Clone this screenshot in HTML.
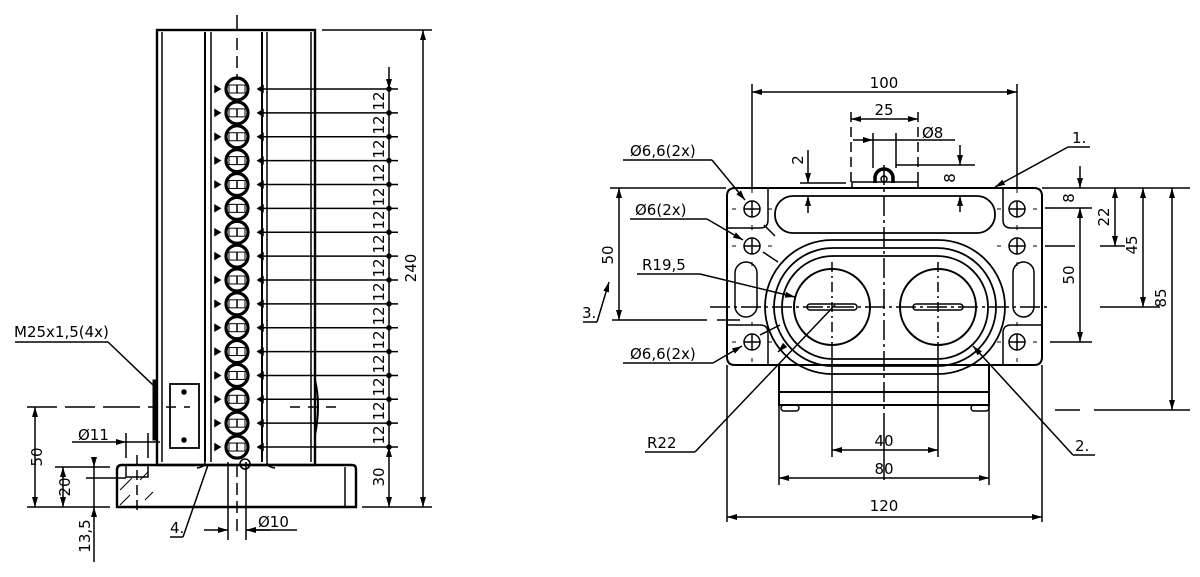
<!DOCTYPE html>
<html><head><meta charset="utf-8"><style>
html,body{margin:0;padding:0;background:#fff;width:1200px;height:577px;overflow:hidden}
svg text{font-family:"DejaVu Sans","Liberation Sans",sans-serif;font-size:15px;fill:#000}
</style></head><body>
<svg width="1200" height="577" viewBox="0 0 1200 577" xmlns="http://www.w3.org/2000/svg">
<defs>
<marker id="a" viewBox="0 0 10 6" refX="10" refY="3" markerWidth="10" markerHeight="6" orient="auto-start-reverse" markerUnits="userSpaceOnUse"><path d="M0,0 L10,3 L0,6z" fill="#000"/></marker>
</defs>
<g stroke="#000" fill="none" stroke-width="1.5">
<!-- ========== LEFT VIEW ========== -->
<line x1="237" y1="15" x2="237" y2="30"/>
<rect x="157" y="30" width="158" height="435" stroke-width="2.4"/>
<line x1="162" y1="32" x2="162" y2="462"/>
<line x1="205" y1="32" x2="205" y2="462" stroke-width="2"/><line x1="211" y1="32" x2="211" y2="462"/>
<line x1="262" y1="32" x2="262" y2="462" stroke-width="2"/><line x1="267" y1="32" x2="267" y2="462"/>
<line x1="311" y1="32" x2="311" y2="462"/>
<line x1="237" y1="38" x2="237" y2="80" stroke-dasharray="12,6"/>
<rect x="170" y="384" width="29" height="64" stroke-width="1.8"/>
<circle cx="184" cy="392" r="2" fill="#000"/><circle cx="184" cy="440" r="2" fill="#000"/>
<path d="M153,380 h4 v60 h-4z" fill="#000" stroke-width="1"/>
<path d="M315,380 q6,25 0,55" stroke-width="2"/>
<line x1="27" y1="407" x2="130" y2="407" stroke-dasharray="30,8"/>
<line x1="130" y1="407" x2="190" y2="407" stroke-dasharray="10,8"/>
<line x1="290" y1="407" x2="340" y2="407" stroke-dasharray="10,8"/>
<!-- base -->
<path d="M122,465 H352 q4,0 4,4 V507 H117 V470 q0,-5 5,-5z" stroke-width="2.4"/>
<line x1="345" y1="467" x2="345" y2="507"/>
<rect x="126" y="465" width="22" height="12"/>
<path d="M120,490 l12,-12 M120,505 l10,-10 M145,500 l8,-8 M140,480 l8,-8" stroke-width="1"/>
<line x1="137" y1="455" x2="137" y2="515" stroke-dasharray="10,5"/>
<line x1="228" y1="462" x2="228" y2="540"/><line x1="246" y1="462" x2="246" y2="540"/>
<line x1="237" y1="465" x2="237" y2="535" stroke-dasharray="12,6"/>
<circle cx="245" cy="464" r="5"/>
<path d="M205,462 q0,5 -8,6 M267,462 q0,5 8,6"/>
<!-- dims left view -->
<line x1="322" y1="30" x2="432" y2="30"/>
<line x1="423" y1="30" x2="423" y2="507" marker-start="url(#a)" marker-end="url(#a)"/>
<line x1="362" y1="507" x2="432" y2="507"/>
<line x1="389" y1="67" x2="389" y2="89" marker-end="url(#a)"/>
<line x1="389" y1="89" x2="389" y2="447"/>
<line x1="389" y1="447" x2="389" y2="507" marker-start="url(#a)" marker-end="url(#a)"/>
<line x1="27" y1="507" x2="110" y2="507"/>
<line x1="35" y1="407" x2="35" y2="507" marker-start="url(#a)" marker-end="url(#a)"/>
<line x1="55" y1="467" x2="110" y2="467"/>
<line x1="63" y1="467" x2="63" y2="507" marker-start="url(#a)" marker-end="url(#a)"/>
<line x1="86" y1="478" x2="126" y2="478"/>
<line x1="94" y1="457" x2="94" y2="467" marker-end="url(#a)"/>
<line x1="94" y1="467" x2="94" y2="507"/>
<line x1="94" y1="562" x2="94" y2="507" marker-end="url(#a)"/>
<line x1="72" y1="442" x2="126" y2="442" marker-end="url(#a)"/>
<line x1="126" y1="442" x2="160" y2="442"/>
<line x1="126" y1="433" x2="126" y2="458"/><line x1="148" y1="433" x2="148" y2="458"/>
<line x1="15" y1="342" x2="108" y2="342"/><line x1="108" y1="342" x2="153" y2="385"/>
<line x1="204" y1="530" x2="228" y2="530" marker-end="url(#a)"/>
<line x1="270" y1="530" x2="246" y2="530" marker-end="url(#a)"/>
<line x1="246" y1="530" x2="297" y2="530"/>
<line x1="170" y1="537" x2="183" y2="537"/><line x1="183" y1="537" x2="208" y2="465"/>

<!-- ========== RIGHT VIEW ========== -->
<line x1="610" y1="188" x2="726" y2="188"/>
<line x1="1042" y1="188" x2="1190" y2="188"/>
<path d="M735,188 H1034 q8,0 8,8 V357 q0,8 -8,8 H735 q-8,0 -8,-8 V196 q0,-8 8,-8z" stroke-width="2"/>
<path d="M727,228 H760 q8,0 8,-8 V188 M1042,228 H1011 q-8,0 -8,-8 V188 M727,325 H760 q8,0 8,8 V365 M1042,325 H1011 q-8,0 -8,8 V365"/>
<rect x="775" y="196" width="220" height="37" rx="18" stroke-width="1.8"/>
<rect x="735" y="262" width="22" height="55" rx="11"/>
<rect x="1013" y="262" width="21" height="55" rx="10.5"/>
<rect x="765" y="240" width="240" height="134" rx="67" stroke-width="1.8"/>
<rect x="774" y="248" width="222" height="118" rx="59" stroke-width="1.8"/>
<rect x="782" y="256" width="206" height="103" rx="51" stroke-width="1.8"/>
<circle cx="832" cy="307" r="38" stroke-width="2"/>
<circle cx="938" cy="307" r="38" stroke-width="2"/>
<rect x="807" y="304" width="50" height="6" rx="3"/>
<rect x="913" y="304" width="50" height="6" rx="3"/>
<path d="M779,365 V392 H989 V365 M779,392 V405 H989 V392" stroke-width="2"/>
<rect x="781" y="405" width="18" height="6" rx="3"/><rect x="971" y="405" width="18" height="6" rx="3"/>
<!-- connector -->
<rect x="852" y="182" width="66" height="6"/>
<path d="M875,183 v-5 a9,9 0 0 1 18,0 v5" stroke-width="3.5"/>
<circle cx="884" cy="179" r="3"/>
<line x1="884" y1="165" x2="884" y2="420" stroke-dasharray="20,4,3,4"/>
<line x1="884" y1="420" x2="884" y2="480"/>
<line x1="710" y1="307" x2="1050" y2="307" stroke-dasharray="20,4,3,4"/>
<line x1="832" y1="262" x2="832" y2="352" stroke-dasharray="10,4,2,4"/>
<line x1="938" y1="262" x2="938" y2="352" stroke-dasharray="10,4,2,4"/>
<line x1="832" y1="352" x2="832" y2="457"/><line x1="938" y1="352" x2="938" y2="457"/>
<!-- dims right -->
<line x1="752" y1="84" x2="752" y2="188"/><line x1="1017" y1="84" x2="1017" y2="188"/>
<line x1="752" y1="92" x2="1017" y2="92" marker-start="url(#a)" marker-end="url(#a)"/>
<line x1="851" y1="112" x2="851" y2="182" stroke-dasharray="10,5"/><line x1="918" y1="112" x2="918" y2="182" stroke-dasharray="10,5"/>
<line x1="851" y1="119" x2="918" y2="119" marker-start="url(#a)" marker-end="url(#a)"/>
<line x1="873" y1="140" x2="955" y2="140"/>
<line x1="853" y1="140" x2="873" y2="140" marker-end="url(#a)"/>
<line x1="873" y1="133" x2="873" y2="168"/><line x1="896" y1="133" x2="896" y2="168"/>
<line x1="896" y1="165" x2="975" y2="165"/>
<line x1="960" y1="145" x2="960" y2="165" marker-end="url(#a)"/>
<line x1="960" y1="212" x2="960" y2="196" marker-end="url(#a)"/>
<line x1="808" y1="150" x2="808" y2="183" marker-end="url(#a)"/>
<line x1="808" y1="213" x2="808" y2="196" marker-end="url(#a)"/>
<line x1="800" y1="183" x2="846" y2="183"/>
<line x1="1045" y1="208" x2="1092" y2="208"/>
<line x1="1045" y1="246" x2="1075" y2="246"/><line x1="1100" y1="246" x2="1125" y2="246"/>
<line x1="1050" y1="342" x2="1092" y2="342"/>
<line x1="1100" y1="307" x2="1160" y2="307"/>
<line x1="1055" y1="410" x2="1080" y2="410"/><line x1="1094" y1="410" x2="1190" y2="410"/>
<line x1="1080" y1="166" x2="1080" y2="188" marker-end="url(#a)"/>
<line x1="1080" y1="208" x2="1080" y2="342" marker-start="url(#a)" marker-end="url(#a)"/>
<line x1="1115" y1="188" x2="1115" y2="246" marker-start="url(#a)" marker-end="url(#a)"/>
<line x1="1143" y1="188" x2="1143" y2="307" marker-start="url(#a)" marker-end="url(#a)"/>
<line x1="1172" y1="188" x2="1172" y2="410" marker-start="url(#a)" marker-end="url(#a)"/>
<line x1="612" y1="320" x2="707" y2="320"/><line x1="717" y1="320" x2="740" y2="320"/>
<line x1="619" y1="188" x2="619" y2="320" marker-start="url(#a)" marker-end="url(#a)"/>
<line x1="779" y1="405" x2="779" y2="485"/><line x1="989" y1="405" x2="989" y2="485"/>
<line x1="727" y1="365" x2="727" y2="522"/><line x1="1042" y1="365" x2="1042" y2="522"/>
<line x1="832" y1="450" x2="938" y2="450" marker-start="url(#a)" marker-end="url(#a)"/>
<line x1="779" y1="478" x2="989" y2="478" marker-start="url(#a)" marker-end="url(#a)"/>
<line x1="727" y1="517" x2="1042" y2="517" marker-start="url(#a)" marker-end="url(#a)"/>
<!-- leaders -->
<line x1="623" y1="160" x2="712" y2="160"/><line x1="712" y1="160" x2="745" y2="200" marker-end="url(#a)"/>
<line x1="764" y1="225" x2="775" y2="236"/>
<line x1="630" y1="219" x2="707" y2="219"/><line x1="707" y1="219" x2="743" y2="240" marker-end="url(#a)"/>
<line x1="763" y1="252" x2="778" y2="262"/>
<line x1="637" y1="274" x2="700" y2="274"/><line x1="700" y1="274" x2="795" y2="297" marker-end="url(#a)"/>
<line x1="623" y1="363" x2="713" y2="363"/><line x1="713" y1="363" x2="742" y2="346" marker-end="url(#a)"/>
<line x1="760" y1="335" x2="780" y2="325"/>
<line x1="645" y1="452" x2="695" y2="452"/><line x1="695" y1="452" x2="835" y2="305"/>
<line x1="782" y1="348" x2="778" y2="352" marker-end="url(#a)"/>
<line x1="1068" y1="147" x2="1090" y2="147"/><line x1="1068" y1="147" x2="995" y2="187" marker-end="url(#a)"/>
<line x1="1073" y1="455" x2="1095" y2="455"/><line x1="1073" y1="455" x2="973" y2="346" marker-end="url(#a)"/>
<line x1="583" y1="322" x2="597" y2="322"/><line x1="597" y1="322" x2="609" y2="282" marker-end="url(#a)"/>
</g>
<g>
<text x="14" y="337">M25x1,5(4x)</text>
<text x="78" y="440">Ø11</text>
<text x="170" y="533">4.</text>
<text x="258" y="527">Ø10</text>
<text transform="translate(42,457) rotate(-90)" text-anchor="middle">50</text>
<text transform="translate(70,487) rotate(-90)" text-anchor="middle">20</text>
<text transform="translate(90,536) rotate(-90)" text-anchor="middle">13,5</text>
<text transform="translate(416,268) rotate(-90)" text-anchor="middle">240</text>
<text transform="translate(384,477) rotate(-90)" text-anchor="middle">30</text>
<text x="884" y="88" text-anchor="middle">100</text>
<text x="884" y="115" text-anchor="middle">25</text>
<text x="922" y="138">Ø8</text>
<text transform="translate(803,160) rotate(-90)" text-anchor="middle">2</text>
<text transform="translate(955,178) rotate(-90)" text-anchor="middle">8</text>
<text x="630" y="156">Ø6,6(2x)</text>
<text x="635" y="215">Ø6(2x)</text>
<text x="642" y="270">R19,5</text>
<text x="630" y="359">Ø6,6(2x)</text>
<text x="647" y="448">R22</text>
<text x="1072" y="143">1.</text>
<text x="1075" y="451">2.</text>
<text x="582" y="318">3.</text>
<text transform="translate(613,255) rotate(-90)" text-anchor="middle">50</text>
<text transform="translate(1074,198) rotate(-90)" text-anchor="middle">8</text>
<text transform="translate(1074,275) rotate(-90)" text-anchor="middle">50</text>
<text transform="translate(1109,217) rotate(-90)" text-anchor="middle">22</text>
<text transform="translate(1137,245) rotate(-90)" text-anchor="middle">45</text>
<text transform="translate(1166,298) rotate(-90)" text-anchor="middle">85</text>
<text x="884" y="446" text-anchor="middle">40</text>
<text x="884" y="474" text-anchor="middle">80</text>
<text x="884" y="511" text-anchor="middle">120</text>
</g>
<g stroke="#000" fill="none" stroke-width="1.5">
<g transform="translate(0,89)"><circle cx="237" cy="0" r="11" stroke-width="3.2"/><rect x="229" y="-4" width="16" height="8" stroke-width="1"/><line x1="237" y1="-4" x2="237" y2="4"/><line x1="258" y1="0" x2="398" y2="0"/><path d="M215,-3 l5,3 l-5,3z M258,0 l5,-3 v6z" fill="#000"/><circle cx="389" cy="0" r="2" fill="#000"/></g>
<g transform="translate(0,112.87)"><circle cx="237" cy="0" r="11" stroke-width="3.2"/><rect x="229" y="-4" width="16" height="8" stroke-width="1"/><line x1="237" y1="-4" x2="237" y2="4"/><line x1="258" y1="0" x2="398" y2="0"/><path d="M215,-3 l5,3 l-5,3z M258,0 l5,-3 v6z" fill="#000"/><circle cx="389" cy="0" r="2" fill="#000"/></g>
<g transform="translate(0,136.74)"><circle cx="237" cy="0" r="11" stroke-width="3.2"/><rect x="229" y="-4" width="16" height="8" stroke-width="1"/><line x1="237" y1="-4" x2="237" y2="4"/><line x1="258" y1="0" x2="398" y2="0"/><path d="M215,-3 l5,3 l-5,3z M258,0 l5,-3 v6z" fill="#000"/><circle cx="389" cy="0" r="2" fill="#000"/></g>
<g transform="translate(0,160.61)"><circle cx="237" cy="0" r="11" stroke-width="3.2"/><rect x="229" y="-4" width="16" height="8" stroke-width="1"/><line x1="237" y1="-4" x2="237" y2="4"/><line x1="258" y1="0" x2="398" y2="0"/><path d="M215,-3 l5,3 l-5,3z M258,0 l5,-3 v6z" fill="#000"/><circle cx="389" cy="0" r="2" fill="#000"/></g>
<g transform="translate(0,184.48)"><circle cx="237" cy="0" r="11" stroke-width="3.2"/><rect x="229" y="-4" width="16" height="8" stroke-width="1"/><line x1="237" y1="-4" x2="237" y2="4"/><line x1="258" y1="0" x2="398" y2="0"/><path d="M215,-3 l5,3 l-5,3z M258,0 l5,-3 v6z" fill="#000"/><circle cx="389" cy="0" r="2" fill="#000"/></g>
<g transform="translate(0,208.35)"><circle cx="237" cy="0" r="11" stroke-width="3.2"/><rect x="229" y="-4" width="16" height="8" stroke-width="1"/><line x1="237" y1="-4" x2="237" y2="4"/><line x1="258" y1="0" x2="398" y2="0"/><path d="M215,-3 l5,3 l-5,3z M258,0 l5,-3 v6z" fill="#000"/><circle cx="389" cy="0" r="2" fill="#000"/></g>
<g transform="translate(0,232.22)"><circle cx="237" cy="0" r="11" stroke-width="3.2"/><rect x="229" y="-4" width="16" height="8" stroke-width="1"/><line x1="237" y1="-4" x2="237" y2="4"/><line x1="258" y1="0" x2="398" y2="0"/><path d="M215,-3 l5,3 l-5,3z M258,0 l5,-3 v6z" fill="#000"/><circle cx="389" cy="0" r="2" fill="#000"/></g>
<g transform="translate(0,256.09)"><circle cx="237" cy="0" r="11" stroke-width="3.2"/><rect x="229" y="-4" width="16" height="8" stroke-width="1"/><line x1="237" y1="-4" x2="237" y2="4"/><line x1="258" y1="0" x2="398" y2="0"/><path d="M215,-3 l5,3 l-5,3z M258,0 l5,-3 v6z" fill="#000"/><circle cx="389" cy="0" r="2" fill="#000"/></g>
<g transform="translate(0,279.96)"><circle cx="237" cy="0" r="11" stroke-width="3.2"/><rect x="229" y="-4" width="16" height="8" stroke-width="1"/><line x1="237" y1="-4" x2="237" y2="4"/><line x1="258" y1="0" x2="398" y2="0"/><path d="M215,-3 l5,3 l-5,3z M258,0 l5,-3 v6z" fill="#000"/><circle cx="389" cy="0" r="2" fill="#000"/></g>
<g transform="translate(0,303.83)"><circle cx="237" cy="0" r="11" stroke-width="3.2"/><rect x="229" y="-4" width="16" height="8" stroke-width="1"/><line x1="237" y1="-4" x2="237" y2="4"/><line x1="258" y1="0" x2="398" y2="0"/><path d="M215,-3 l5,3 l-5,3z M258,0 l5,-3 v6z" fill="#000"/><circle cx="389" cy="0" r="2" fill="#000"/></g>
<g transform="translate(0,327.7)"><circle cx="237" cy="0" r="11" stroke-width="3.2"/><rect x="229" y="-4" width="16" height="8" stroke-width="1"/><line x1="237" y1="-4" x2="237" y2="4"/><line x1="258" y1="0" x2="398" y2="0"/><path d="M215,-3 l5,3 l-5,3z M258,0 l5,-3 v6z" fill="#000"/><circle cx="389" cy="0" r="2" fill="#000"/></g>
<g transform="translate(0,351.57)"><circle cx="237" cy="0" r="11" stroke-width="3.2"/><rect x="229" y="-4" width="16" height="8" stroke-width="1"/><line x1="237" y1="-4" x2="237" y2="4"/><line x1="258" y1="0" x2="398" y2="0"/><path d="M215,-3 l5,3 l-5,3z M258,0 l5,-3 v6z" fill="#000"/><circle cx="389" cy="0" r="2" fill="#000"/></g>
<g transform="translate(0,375.44)"><circle cx="237" cy="0" r="11" stroke-width="3.2"/><rect x="229" y="-4" width="16" height="8" stroke-width="1"/><line x1="237" y1="-4" x2="237" y2="4"/><line x1="258" y1="0" x2="398" y2="0"/><path d="M215,-3 l5,3 l-5,3z M258,0 l5,-3 v6z" fill="#000"/><circle cx="389" cy="0" r="2" fill="#000"/></g>
<g transform="translate(0,399.31)"><circle cx="237" cy="0" r="11" stroke-width="3.2"/><rect x="229" y="-4" width="16" height="8" stroke-width="1"/><line x1="237" y1="-4" x2="237" y2="4"/><line x1="258" y1="0" x2="398" y2="0"/><path d="M215,-3 l5,3 l-5,3z M258,0 l5,-3 v6z" fill="#000"/><circle cx="389" cy="0" r="2" fill="#000"/></g>
<g transform="translate(0,423.18)"><circle cx="237" cy="0" r="11" stroke-width="3.2"/><rect x="229" y="-4" width="16" height="8" stroke-width="1"/><line x1="237" y1="-4" x2="237" y2="4"/><line x1="258" y1="0" x2="398" y2="0"/><path d="M215,-3 l5,3 l-5,3z M258,0 l5,-3 v6z" fill="#000"/><circle cx="389" cy="0" r="2" fill="#000"/></g>
<g transform="translate(0,447.05)"><circle cx="237" cy="0" r="11" stroke-width="3.2"/><rect x="229" y="-4" width="16" height="8" stroke-width="1"/><line x1="237" y1="-4" x2="237" y2="4"/><line x1="258" y1="0" x2="398" y2="0"/><path d="M215,-3 l5,3 l-5,3z M258,0 l5,-3 v6z" fill="#000"/><circle cx="389" cy="0" r="2" fill="#000"/></g>
<g transform="translate(752,209)"><circle r="8"/><path d="M-8,0h16M0,-8v16"/><path d="M-16,0h-4M16,0h4M0,-16v-4M0,16v4" stroke-width="1"/></g>
<g transform="translate(752,246)"><circle r="8"/><path d="M-8,0h16M0,-8v16"/><path d="M-16,0h-4M16,0h4M0,-16v-4M0,16v4" stroke-width="1"/></g>
<g transform="translate(752,342)"><circle r="8"/><path d="M-8,0h16M0,-8v16"/><path d="M-16,0h-4M16,0h4M0,-16v-4M0,16v4" stroke-width="1"/></g>
<g transform="translate(1017,209)"><circle r="8"/><path d="M-8,0h16M0,-8v16"/><path d="M-16,0h-4M16,0h4M0,-16v-4M0,16v4" stroke-width="1"/></g>
<g transform="translate(1017,246)"><circle r="8"/><path d="M-8,0h16M0,-8v16"/><path d="M-16,0h-4M16,0h4M0,-16v-4M0,16v4" stroke-width="1"/></g>
<g transform="translate(1017,342)"><circle r="8"/><path d="M-8,0h16M0,-8v16"/><path d="M-16,0h-4M16,0h4M0,-16v-4M0,16v4" stroke-width="1"/></g>
</g>
<g>
<text transform="translate(384,101) rotate(-90)" text-anchor="middle">12</text>
<text transform="translate(384,125) rotate(-90)" text-anchor="middle">12</text>
<text transform="translate(384,149) rotate(-90)" text-anchor="middle">12</text>
<text transform="translate(384,173) rotate(-90)" text-anchor="middle">12</text>
<text transform="translate(384,197) rotate(-90)" text-anchor="middle">12</text>
<text transform="translate(384,220) rotate(-90)" text-anchor="middle">12</text>
<text transform="translate(384,244) rotate(-90)" text-anchor="middle">12</text>
<text transform="translate(384,268) rotate(-90)" text-anchor="middle">12</text>
<text transform="translate(384,292) rotate(-90)" text-anchor="middle">12</text>
<text transform="translate(384,316) rotate(-90)" text-anchor="middle">12</text>
<text transform="translate(384,340) rotate(-90)" text-anchor="middle">12</text>
<text transform="translate(384,364) rotate(-90)" text-anchor="middle">12</text>
<text transform="translate(384,387) rotate(-90)" text-anchor="middle">12</text>
<text transform="translate(384,411) rotate(-90)" text-anchor="middle">12</text>
<text transform="translate(384,435) rotate(-90)" text-anchor="middle">12</text>
</g>
</svg>
</body></html>
